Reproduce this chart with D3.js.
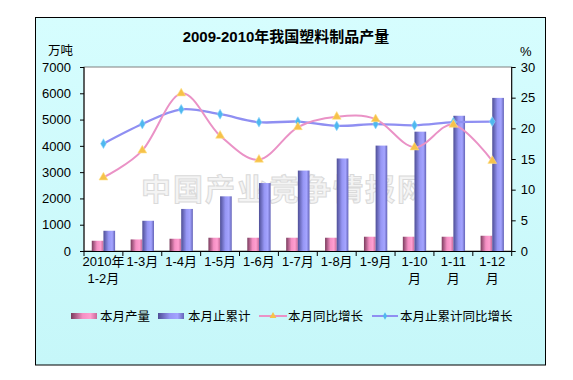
<!DOCTYPE html>
<html>
<head>
<meta charset="utf-8">
<script src="https://cdn.jsdelivr.net/npm/d3@7"></script>
<style>
html,body{margin:0;padding:0;background:#fff;}
svg{display:block;}
text{font-family:"Liberation Sans","Noto Sans CJK SC",sans-serif;}
</style>
</head>
<body>
<svg id="chart" width="573" height="380"></svg>
<script>
const title = "2009-2010年我国塑料制品产量";
const categories = ["2010年\n1-2月","1-3月","1-4月","1-5月","1-6月","1-7月","1-8月","1-9月","1-10\n月","1-11\n月","1-12\n月"];
const monthlyOutput = [390,440,466,505,505,505,505,543,543,543,580];
const cumulativeOutput = [770,1150,1600,2080,2585,3060,3520,4010,4540,5145,5825];
const monthlyGrowth = [12.0,16.4,25.7,18.8,14.9,20.2,21.9,21.5,16.9,20.6,14.7];
const cumulativeGrowth = [17.5,20.7,23.1,22.3,21.0,21.1,20.4,20.7,20.5,21.0,21.1];
const leftTicks = [0,1000,2000,3000,4000,5000,6000,7000];
const rightTicks = [0,5,10,15,20,25,30];
const seriesNames = ["本月产量","本月止累计","本月同比增长","本月止累计同比增长"];
const leftUnit = "万吨", rightUnit = "%";
const watermark = "中国产业竞争情报网";

const svg = d3.select("#chart");
const defs = svg.append("defs");

const bg = defs.append("linearGradient").attr("id","bg").attr("x1",0).attr("y1",0).attr("x2",0).attr("y2",1);
bg.append("stop").attr("offset","0%").attr("stop-color","#d6fdfe");
bg.append("stop").attr("offset","100%").attr("stop-color","#c6f7f9");

function barGrad(id, stops){
  const g = defs.append("linearGradient").attr("id",id).attr("x1",0).attr("y1",0).attr("x2",1).attr("y2",0);
  stops.forEach(s=>g.append("stop").attr("offset",s[0]).attr("stop-color",s[1]));
}
barGrad("gPink",[["0%","#7a3c5e"],["45%","#f590c4"],["75%","#ff9fd0"],["100%","#c86a9a"]]);
barGrad("gBlue",[["0%","#4e4e96"],["45%","#9696f4"],["75%","#a4a4ff"],["100%","#6464b8"]]);

// frame
svg.append("rect").attr("x",35.5).attr("y",17.5).attr("width",510).attr("height",347.5)
  .attr("fill","url(#bg)").attr("stroke","#000").attr("stroke-width",1);

const L = 84, R = 511.7, T = 67, B = 251;

const x = d3.scaleBand().domain(categories).range([L,R]).paddingInner(0.4).paddingOuter(0.2);
const xs = d3.scaleBand().domain([0,1]).range([0,x.bandwidth()]);
const yL = d3.scaleLinear().domain([0,7000]).range([B,T]);
const yR = d3.scaleLinear().domain([0,30]).range([B,T]);

// plot area
svg.append("rect").attr("x",L).attr("y",T).attr("width",R-L).attr("height",B-T)
  .attr("fill","#ffffff").attr("stroke","#808080").attr("stroke-width",1);

// watermark
svg.append("text").attr("x",285).attr("y",200).attr("text-anchor","middle")
  .style("font-family","'Noto Sans CJK SC',sans-serif").style("font-weight","bold")
  .style("font-size","30px").style("letter-spacing","2px")
  .attr("fill","#f4f4f4").attr("stroke","#dadada").attr("stroke-width",1)
  .text(watermark);

// bars
const g = svg.append("g");
g.selectAll(".b0").data(monthlyOutput).join("rect")
  .attr("x",(d,i)=>x(categories[i])+xs(0)).attr("y",d=>yL(d))
  .attr("width",xs.bandwidth()).attr("height",d=>B-yL(d)).attr("fill","url(#gPink)");
g.selectAll(".b1").data(cumulativeOutput).join("rect")
  .attr("x",(d,i)=>x(categories[i])+xs(1)).attr("y",d=>yL(d))
  .attr("width",xs.bandwidth()).attr("height",d=>B-yL(d)).attr("fill","url(#gBlue)");

// axes
const axL = d3.axisLeft(yL).tickValues(leftTicks).tickSize(4).tickPadding(9).tickFormat(d3.format("d"));
const gL = svg.append("g").attr("transform",`translate(${L},0)`).call(axL);
const axR = d3.axisRight(yR).tickValues(rightTicks).tickSize(4).tickPadding(5);
const gR = svg.append("g").attr("transform",`translate(${R},0)`).call(axR);
[gL,gR].forEach(a=>{
  a.select(".domain").attr("stroke","#000");
  a.selectAll(".tick line").attr("stroke","#000");
  a.selectAll("text").style("font-size","13px").attr("fill","#000")
   .style("font-family","'Liberation Sans','Noto Sans CJK SC',sans-serif");
});
gL.select(".domain").attr("d",`M0,${T}V${B}`);
gR.select(".domain").attr("d",`M0,${T}V${B}`);

// bottom axis line and ticks at category boundaries
svg.append("line").attr("x1",L).attr("x2",R).attr("y1",B+0.5).attr("y2",B+0.5).attr("stroke","#000");
const step = x.step();
svg.append("g").selectAll("line").data(d3.range(categories.length+1)).join("line")
  .attr("x1",i=>L+i*step).attr("x2",i=>L+i*step).attr("y1",B).attr("y2",B+5).attr("stroke","#000");

// category labels
const cl = svg.append("g").selectAll("text").data(categories).join("text")
  .attr("x",d=>x(d)+x.bandwidth()/2).attr("y",266).attr("text-anchor","middle")
  .style("font-size","13px").attr("fill","#000");
cl.each(function(d){
  const t = d3.select(this);
  d.split("\n").forEach((s,j)=>{
    t.append("tspan").attr("x",x(d)+x.bandwidth()/2).attr("dy",j===0?0:17).text(s);
  });
});

// lines
const cx = i => x(categories[i]) + x.bandwidth()/2;
const line = d3.line().x((d,i)=>cx(i)).y(d=>yR(d)).curve(d3.curveCardinal.tension(0));
svg.append("path").attr("d",line(cumulativeGrowth)).attr("fill","none").attr("stroke","#8f8ff2").attr("stroke-width",2.3);
svg.append("path").attr("d",line(monthlyGrowth)).attr("fill","none").attr("stroke","#ea92c6").attr("stroke-width",2);

const tri = d3.symbol().type(d3.symbolTriangle).size(34);
const dia = d3.symbol().type(d3.symbolDiamond).size(28);
svg.append("g").selectAll("path").data(cumulativeGrowth).join("path")
  .attr("transform",(d,i)=>`translate(${cx(i)},${yR(d)})`).attr("d",dia())
  .attr("fill","#4fb8ee").attr("stroke","#8fd6ff").attr("stroke-width",0.6);
svg.append("g").selectAll("path").data(monthlyGrowth).join("path")
  .attr("transform",(d,i)=>`translate(${cx(i)},${yR(d)})`).attr("d",tri())
  .attr("fill","#f6c24a").attr("stroke","#ffe08a").attr("stroke-width",0.6);

// title & units
svg.append("text").attr("x",286).attr("y",41.5).attr("text-anchor","middle")
  .style("font-size","15px").style("font-weight","bold").attr("fill","#000").text(title);
svg.append("text").attr("x",48).attr("y",55).style("font-size","12.5px").attr("fill","#000").text(leftUnit);
svg.append("text").attr("x",520).attr("y",56).style("font-size","13px").attr("fill","#000").text(rightUnit);

// legend
const ly = 316;
const leg = svg.append("g");
leg.append("rect").attr("x",71).attr("y",ly-3).attr("width",26).attr("height",6).attr("fill","url(#gPink)");
leg.append("text").attr("x",100).attr("y",ly+4.5).style("font-size","12.5px").text(seriesNames[0]);
leg.append("rect").attr("x",158).attr("y",ly-3).attr("width",26).attr("height",6).attr("fill","url(#gBlue)");
leg.append("text").attr("x",188).attr("y",ly+4.5).style("font-size","12.5px").text(seriesNames[1]);
leg.append("line").attr("x1",259).attr("x2",287).attr("y1",ly).attr("y2",ly).attr("stroke","#ea92c6").attr("stroke-width",2);
leg.append("path").attr("transform",`translate(273,${ly})`).attr("d",d3.symbol().type(d3.symbolTriangle).size(20)()).attr("fill","#f6c24a");
leg.append("text").attr("x",288).attr("y",ly+4.5).style("font-size","12.5px").text(seriesNames[2]);
leg.append("line").attr("x1",372).attr("x2",398).attr("y1",ly).attr("y2",ly).attr("stroke","#8f8ff2").attr("stroke-width",2);
leg.append("path").attr("transform",`translate(385,${ly})`).attr("d",d3.symbol().type(d3.symbolDiamond).size(16)()).attr("fill","#4fb8ee");
leg.append("text").attr("x",400).attr("y",ly+4.5).style("font-size","12.5px").text(seriesNames[3]);
</script>
</body>
</html>
